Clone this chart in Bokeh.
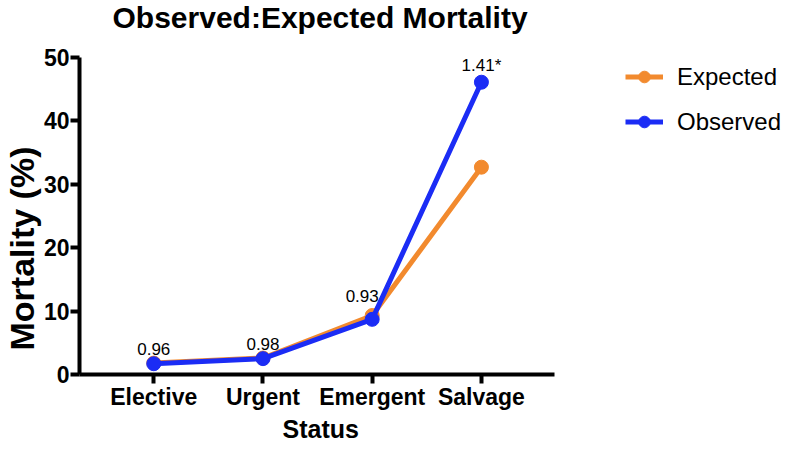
from bokeh.plotting import figure
from bokeh.models import Legend, LegendItem, FixedTicker, Range1d, ColumnDataSource, Title
from bokeh.core.properties import value
from bokeh.embed import file_html
from bokeh.resources import INLINE

categories = ["Elective", "Urgent", "Emergent", "Salvage"]
expected = [1.8, 2.6, 9.3, 32.7]
observed = [1.7, 2.5, 8.7, 46.1]
ratio_labels = ["0.96", "0.98", "0.93", "1.41*"]
y_ticks = [0, 10, 20, 30, 40, 50]

xs = list(range(len(categories)))
ORANGE = "#F28A2E"
BLUE = "#1B2CF5"
FONT = "Liberation Sans"

W, H = 784, 442
LEFT = 72
X0, X1 = -0.68, 3.67
p = figure(width=W, height=H, output_backend="svg", toolbar_location=None,
           x_range=Range1d(X0, X0 + (W - LEFT) / 110.3), y_range=Range1d(0, 50),
           min_border_left=LEFT, min_border_right=0, min_border_top=0, min_border_bottom=0)
p.outline_line_color = None
p.grid.visible = False
p.background_fill_color = "white"

p.title.text = "Observed:Expected Mortality"
p.title.text_font = FONT
p.title.text_font_size = "30px"
p.title.text_font_style = "bold"
p.title.text_color = "black"
p.title.align = "left"
p.title.offset = 33
p.title.vertical_align = "top"
p.title.standoff = 0

# empty spacer between the title and the plot area
p.add_layout(Title(text=" ", text_font=FONT, text_font_size="18px", standoff=0), "above")

src = ColumnDataSource(dict(x=xs, exp=expected, obs=observed, lab=ratio_labels,
                            xo=[0, 0, -10, 0], yo=[-9, -9, -17, -7]))

le = p.line("x", "exp", source=src, line_color=ORANGE, line_width=5)
ce = p.scatter("x", "exp", source=src, size=14, fill_color=ORANGE, line_color=ORANGE)
lo = p.line("x", "obs", source=src, line_color=BLUE, line_width=5)
co = p.scatter("x", "obs", source=src, size=14, fill_color=BLUE, line_color=BLUE)

p.text("x", "obs", text="lab", source=src, x_offset="xo", y_offset="yo",
       text_align="center", text_baseline="bottom", text_font=value(FONT),
       text_font_size="17px", text_color="black")

for ax in (p.xaxis[0], p.yaxis[0]):
    ax.axis_line_width = 4
    ax.axis_line_color = "black"
    ax.major_tick_line_width = 4
    ax.major_tick_line_color = "black"
    ax.major_tick_out = 9
    ax.major_tick_in = 0
    ax.minor_tick_line_color = None
    ax.major_label_text_font = FONT
    ax.major_label_text_font_size = "23px"
    ax.major_label_text_font_style = "bold"
    ax.major_label_text_color = "black"

p.xaxis.ticker = FixedTicker(ticks=xs)
p.xaxis.bounds = (X0, X1)
p.xaxis.major_label_overrides = {i: c for i, c in enumerate(categories)}
p.xaxis.major_label_standoff = 0

p.yaxis.ticker = FixedTicker(ticks=y_ticks)
p.yaxis.major_label_standoff = 1

# axis titles (placed as titles so they can sit off-centre like the reference)
xlab = Title(text="Status", align="left", offset=203, standoff=0,
             text_font=FONT, text_font_size="25px", text_font_style="bold", text_color="black")
p.add_layout(xlab, "below")
ylab = Title(text="Mortality (%)", align="left", offset=24, standoff=0,
             text_font=FONT, text_font_size="34px", text_font_style="bold", text_color="black")
p.add_layout(ylab, "left")

legend = Legend(items=[LegendItem(label="Expected", renderers=[le, ce]),
                       LegendItem(label="Observed", renderers=[lo, co])],
                location=(546, 238), border_line_color=None, background_fill_alpha=0,
                label_text_font=FONT, label_text_font_size="24px", label_text_color="black",
                glyph_width=38, glyph_height=29, label_height=29, spacing=16,
                label_standoff=14, margin=0, padding=0)
p.add_layout(legend, "center")

open("out.html", "w").write(file_html(p, INLINE))
